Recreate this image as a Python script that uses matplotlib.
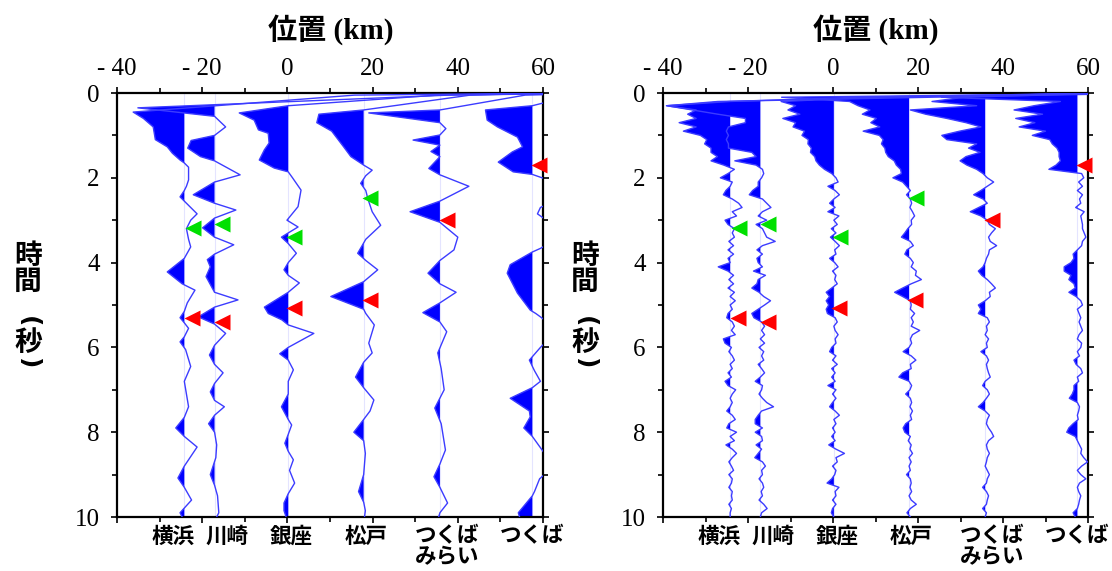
import matplotlib
matplotlib.use('Agg')
import matplotlib.pyplot as plt
import numpy as np

# 字体：数字用衬线体，汉字回退到 Noto Sans CJK JP
plt.rcParams['font.family'] = ['Liberation Serif', 'Noto Sans CJK JP']
plt.rcParams['axes.unicode_minus'] = False

# ---------------- 数据 ----------------
STATIONS = ['横浜', '川崎', '銀座', '松戸', 'つくば\nみらい', 'つくば']
STATION_KM = [-24.2, -17.1, 0.2, 17.9, 35.8, 57.5]
LABEL_KM = [-26.8, -14.2, 0.9, 18.4, 37.5, 57.5]

X_TICKS = [-40, -20, 0, 20, 40, 60]
X_TICK_LABELS = ['- 40', '- 20', '0', '20', '40', '60']
Y_TICKS = [0, 2, 4, 6, 8, 10]

# P波（绿）、S波（红）到时标记
P_KM = [-22.2, -15.4, 1.6, 19.5]
P_T = [3.18, 3.09, 3.40, 2.48]
S_KM = [-22.4, -15.4, 1.5, 19.3, 37.5, 59.0]
S_T = [5.30, 5.40, 5.07, 4.88, 3.00, 1.70]

# 左图：低频波形（时间点, 振幅 km）
L_YOKOHAMA_T = [0.0, 0.05, 0.45, 0.6, 0.8, 1.1, 1.27, 1.42, 1.58, 1.65, 1.75, 2.05, 2.2, 2.3, 2.45, 2.6,
                2.85, 3.0, 3.2, 3.45, 3.63, 3.9, 4.22, 4.5, 4.65, 4.95, 5.15, 5.3, 5.42, 5.55, 5.75, 5.87,
                6.05, 6.45, 6.8, 7.4, 7.65, 7.9, 8.1, 8.35, 8.8, 9.08, 9.3, 9.6, 9.9, 10.0]
L_YOKOHAMA_V = [90, 40, -12, -9.6, -7.3, -6.8, -4, -2.8, -1, 0, 1, 1, 0.5, 0, -1, 0.5,
                3, 1.5, 0.5, 1, 1.5, 0, -4, -0.5, 2.5, 0.7, 0, -1, 0, 1, 0, -1,
                0.3, 1.5, 0, 1, 0, -2, 0, 3, 0, -1.5, 0, 1.7, -1, -0.5]

L_KAWASAKI_T = [0.0, 0.05, 0.35, 0.55, 0.8, 1.0, 1.12, 1.3, 1.5, 1.6, 1.93, 2.1, 2.4, 2.6, 2.76, 2.95,
                3.18, 3.4, 3.58, 3.8, 3.93, 4.1, 4.33, 4.7, 4.88, 5.05, 5.28, 5.45, 5.67, 5.95, 6.18,
                6.4, 6.6, 6.85, 7.05, 7.25, 7.4, 7.6, 7.8, 8.0, 8.3, 8.6, 9.0, 9.25, 9.5, 9.9, 10.0]
L_KAWASAKI_V = [95, 55, -18, 0, 2.6, 0, -5.5, -6.3, -3.3, 0, 6, 0, -5, 0, 5, 0,
                -2.8, 0, 4.5, 0, -1.7, -1, -2, 0, 5.5, 0, -3.8, 0, 2.6, 0, -1.2,
                0, 2, 0, -1, 0, 2.3, 0, -1.4, 0, 0.5, 0.3, -1, 0, 0.7, 1, 0.5]

L_GINZA_T = [0.0, 0.05, 0.3, 0.47, 0.64, 0.87, 0.95, 1.18, 1.34, 1.58, 1.77, 1.86, 2.0, 2.29, 2.68, 3.0,
             3.16, 3.3, 3.4, 3.55, 3.78, 4.0, 4.17, 4.3, 4.48, 4.7, 5.05, 5.2, 5.35, 5.47, 5.67, 6.0,
             6.15, 6.3, 6.53, 6.8, 7.1, 7.4, 7.7, 7.83, 8.05, 8.26, 8.45, 8.65, 8.9, 9.2, 9.45, 9.67,
             9.85, 10.0]
L_GINZA_V = [70, 35, 0, -11.5, -8, -7, -4.7, -4.5, -5.6, -6.8, -3.3, 0, 1, 3, 2.3, -0.3,
             2.3, 0, -1.6, 0, 1.9, 0, -1, 0, 2.6, 0, -5.6, -4.7, -1.5, 0, 6, 0,
             -2, 0, 1.2, 0, 0, -1.6, 0, 0.8, 0, -0.8, 0, 1.2, 0.3, 1.5, 0, -1,
             -1, -0.5]

L_MATSUDO_T = [0.0, 0.05, 0.4, 0.5, 0.7, 0.9, 1.27, 1.5, 1.7, 1.82, 1.95, 2.13, 2.3, 2.5, 2.8, 3.12,
               3.45, 3.78, 3.95, 4.17, 4.45, 4.8, 5.1, 5.2, 5.47, 5.9, 6.13, 6.35, 6.7, 6.95, 7.24,
               7.5, 7.7, 8.0, 8.2, 8.5, 9.0, 9.4, 9.65, 9.85, 10.0]
L_MATSUDO_V = [45, 25, 0, -10.5, -11, -7.5, -4.7, -3, 0, 2, 0.5, -0.7, 0.5, 1, 2, 4,
               0.5, -1.4, 0.5, 3.3, 0, -7.7, 0, 0.5, 2.5, 1.2, 2, 0, -1.9, 0, 2.4,
               1.5, 0, -2.3, 0, 0.4, 0, -1.2, 0, 0.4, 0.2]

L_MIRAI_T = [0.0, 0.05, 0.4, 0.47, 0.7, 0.84, 0.99, 1.11, 1.23, 1.38, 1.5, 1.78, 1.93, 2.2, 2.55, 2.8,
             3.05, 3.4, 3.7, 3.95, 4.25, 4.5, 4.7, 4.95, 5.18, 5.4, 5.63, 6.13, 6.5, 7.0, 7.43, 7.8,
             8.42, 8.75, 9.05, 9.3, 9.67, 9.9, 10.0]
L_MIRAI_V = [40, 20, 0, -16.7, 0, 1.4, 0, -6.3, 0, -2.1, 0, -2.6, 0, 6.8, 0, -7,
             0, 4.2, 3.3, 0, -2.8, 0, 3.8, 0, -4, 0, 1.6, -0.5, 0.3, 1, -1.2, 0.3,
             1.3, 0, -1.4, 0, 1.8, 0, -0.3]

L_TSUKUBA_T = [0.0, 0.05, 0.3, 0.4, 0.64, 0.8, 1.04, 1.27, 1.39, 1.63, 1.86, 1.92, 2.2, 2.6, 2.7, 2.85,
               2.95, 3.3, 3.66, 3.75, 4.05, 4.25, 4.72, 5.12, 5.2, 5.28, 5.6, 6.0, 6.3, 6.55, 6.8,
               6.95, 7.2, 7.5, 7.64, 7.9, 8.1, 8.45, 8.8, 9.1, 9.4, 9.5, 9.9, 10.0]
L_TSUKUBA_V = [20, 10, 0, -11, -10.6, -8.2, -3.5, -2.3, -4.7, -8, -4.5, 0, 8, 4, 1.9, 1.2,
               2.6, 8, 2, 0, -5.2, -5.9, -3.5, -0.5, 0.8, 1.9, 6, 1.9, -0.7, 0.5, 1.9,
               0, -5.2, -0.7, -0.5, -2, 0, 2.5, 5, 1.7, 0.5, 0, -3.3, -3]

# 右图：高频波形，0.1 s 间隔采样
R_TIME = np.arange(101) / 10.0
R_YOKOHAMA = [90, 30, 0, -15, -8, -10, -8, -12, -8, -11,
              -7, -5.5, -6, -4.5, -4.5, -3, -4.5, -1.5, 1, -0.5,
              -2.3, 0.5, 0, -1, -1.6, 0.5, 2, 2.8, 0.5, 1.5,
              -1.2, -0.5, 1, 0.5, 1, -0.3, 0.8, -0.5, 0.8, -0.5,
              0, -2.8, -0.5, 0.8, -0.3, 0.8, -0.5, 1, 0, 1.2,
              0, 0.5, -0.5, -0.8, 0.5, 1, 0.3, 1.2, -1.6, -1.2,
              0.3, -0.3, 0.5, 1, 0, 0.5, -0.5, 0.3, -1.2, -0.5,
              1.3, 0.5, 0, 0.5, 0, -0.8, 0.5, 1.2, -0.3, -0.8,
              1.5, 0, 1, -1, 0.5, 1.5, 0.5, -0.3, 0.3, 0.8,
              -0.3, 0.5, 0.3, -0.3, 0.5, 0.3, 0.5, -0.3, 0.3, 0,
              0]
R_KAWASAKI = [95, 40, -10, -22, -16, -10, -3.5, -3.5, -7.5, -8,
              -7.5, -8, -7.5, -7.5, -2, -1, -6, -1, 0.5, 0.8,
              0.3, -0.5, -0.5, -1.8, -2.6, 0.5, 1.5, 2.5, 0.5, -0.5,
              1.5, -1, 0.5, 1, 1.5, 3.5, 0.5, -0.8, 0.5, -0.8,
              -0.5, 0.5, -1.6, 1.2, -0.5, -0.8, -2, -0.3, 0.8, 2.4,
              1, -0.5, -2, -1.5, 0.3, 1, 0.3, 1, 0, 1,
              -0.3, 0.8, 0.3, 0.8, -0.5, 0.3, 1, 0, -1.2, 0.5,
              0.3, -0.3, 0.5, 1.5, 3.1, 0.3, -0.5, -1.2, -1.2, 0.5,
              -1.2, 0.3, 0.5, -1, 0.3, -0.5, -1.3, 0.5, 1.2, 0.3,
              0.5, -0.3, 0.5, 0.8, 0.2, 0.5, -0.3, 0.8, 1.6, 0.3,
              0]
R_GINZA = [70, 10, -12.4, -9, -10.8, -8, -12, -9, -9.6, -6.9,
           -7.5, -6, -6.1, -5.3, -5.5, -4.5, -4.2, -3.4, -2.2, -0.5,
           0.5, 1, -1.4, 0.3, 1.3, 0, -1, 0.3, -1.4, 1.2,
           0, 0.8, -0.6, 0.5, -0.8, 0.3, 1.3, 0.2, 0.5, -1,
           0.2, 1, -0.3, 0.5, 0.2, 0.8, -0.5, -1.8, -1, -1.8,
           -1.2, -1.8, -1.5, 0.3, 0.8, 0, 0.3, 1, 0.3, 0.5,
           -0.5, -1, 0.5, -0.3, 0.8, -0.5, 0.3, -0.5, 0.3, -1.4,
           0.5, -0.3, 0.5, -0.3, -1, 0.3, 1.3, 0, 0.5, -0.3,
           0.3, -0.5, 0.3, -1.2, 0.5, 2.5, 0.5, 0.8, -0.3, 0.5,
           0.2, -0.5, -1.6, 1.2, 0.3, 0.5, -0.3, 0.5, -0.3, -0.6,
           0]
R_MATSUDO = [60, -30, -14, -12, -9.2, -11, -7.7, -9, -6.9, -10.8,
             -7, -6.1, -6.5, -5.7, -5.5, -4.9, -3.5, -3, -2, -1.8,
             -3.8, -1.5, -0.6, 0.3, -0.6, 0.3, 0.6, 0.2, 0.8, 1.3,
             0.5, 0.6, -0.3, -1, -1.8, 0.3, 1, -0.5, -1, 0.3,
             1, 0.5, 1.7, 1.5, 2.9, 0.5, -1.5, -3.4, -1.5, 0.3,
             0.5, 0.3, 1.3, 0.5, 1, 0.5, 2.5, 0.8, 0.3, 0.6,
             0, -1.4, 0.5, 1.6, 0.3, 0.5, -1.5, -2.4, 0, 0.6,
             0.2, -0.8, 0.3, 0.6, 0.2, 0.8, 0.3, 0.6, -0.8, -1.4,
             -1, 0.3, -0.2, 0.5, 0.2, 0.8, 0, 0.5, 0, 0.3,
             -0.6, 0.3, 0.5, 0.2, 0.6, 0, 0.5, 1.7, 0.3, -0.5,
             0.3]
R_MIRAI = [30, -5, -12.5, -2, -17.6, -14, -9, -4.5, -1, -6,
           -10.2, -9, -2, -3.9, -1.2, -4.5, -5.9, -4.3, -2, -0.5,
           0.5, 2, 0.5, -1, -2.7, -0.5, 0.5, -1.5, -3.5, -1,
           0.5, 1, 2.4, 1.5, 0.8, 1.2, 2.7, 1, 0.8, 0.3,
           0, -0.5, -1.6, -0.8, 0.5, 1.5, 2.4, 1, 1.2, 0,
           -1.6, -1, -1.6, 0.5, 1, 0.3, 0.5, 0, 0.8, 0.3,
           0.5, -1, 0.3, 0.8, 0.3, 0.5, 0.8, 1.2, 0, -0.6,
           0.5, 1, 0.3, -0.5, -1.6, 0, 1, 0.5, 0.3, 0.8,
           1.5, 2, 0.8, 0.3, 0.5, 1, 0.5, 0.3, 0, 0.5,
           1, 0.5, 0.3, -0.6, 0.3, 0.8, 0.5, 0.3, -0.6, 0.3,
           0]
R_TSUKUBA = [2, -32, -4, -10.2, -14.9, -8.2, -14.5, -10, -13.7, -7.5,
             -10.6, -6.5, -5.9, -4.8, -4.3, -4.3, -4, -5, -6.7, 1,
             1.5, 0.3, 1.2, 0, 1.2, 0.5, 0.8, -0.4, 1.6, 0.8,
             1, 1.2, 1.2, 1.6, 2, 1.2, 1, 0, -1, -0.8,
             -1.5, -3.1, -3.1, -1.5, -2, -0.8, -0.5, -2, -0.3, 0.8,
             1.2, 0, 0.4, 0.8, 0.4, 0.8, 1.2, 0.4, 0, 1,
             0.8, 0, 0.5, -0.8, -0.3, 0.8, 1.2, 0, 0.3, -0.8,
             -0.8, -1.2, -1.9, 0, 0.5, 0.3, 0, 0.2, -1, -2,
             -2.5, -0.5, 0, 0.5, 1, 0.8, 1.5, 2.4, 1, 0,
             0.8, 2, 0.5, 0, 0.3, 0.8, 0.5, 0.3, 0, -1,
             -0.5]

LEFT_TRACES = [(L_YOKOHAMA_T, L_YOKOHAMA_V), (L_KAWASAKI_T, L_KAWASAKI_V),
               (L_GINZA_T, L_GINZA_V), (L_MATSUDO_T, L_MATSUDO_V),
               (L_MIRAI_T, L_MIRAI_V), (L_TSUKUBA_T, L_TSUKUBA_V)]
RIGHT_TRACES = [(R_TIME, v) for v in
                [R_YOKOHAMA, R_KAWASAKI, R_GINZA, R_MATSUDO, R_MIRAI, R_TSUKUBA]]

W, H = 1112, 571
LINE_COLOR = '#3c3cff'
FILL_COLOR = '#0000ff'


def draw_panel(ax, traces):
    """绘制一个面板：各测站波形，负向填充"""
    for base, (t, v) in zip(STATION_KM, traces):
        t = np.asarray(t, dtype=float)
        x = base + np.asarray(v, dtype=float)
        ax.axvline(base, color='#e4e4ff', lw=0.8, zorder=0)
        ax.fill_betweenx(t, base, x, where=x < base, interpolate=True,
                         color=FILL_COLOR, lw=0, zorder=2)
        ax.plot(x, t, color=LINE_COLOR, lw=1.0, zorder=3)

    # 到时标记
    ax.plot(P_KM, P_T, '<', color='#00e000', markersize=11, mec='none',
            clip_on=False, zorder=5)
    ax.plot(S_KM, S_T, '<', color='#ff0000', markersize=11, mec='none',
            clip_on=False, zorder=5)

    ax.set_xlim(-40, 60)
    ax.set_ylim(10, 0)
    ax.set_xticks(X_TICKS)
    ax.set_xticklabels(X_TICK_LABELS)
    ax.set_xticks(np.arange(-30, 60, 20), minor=True)
    ax.set_yticks(Y_TICKS)
    ax.set_yticks(np.arange(1, 10, 2), minor=True)
    ax.tick_params(which='both', direction='out', top=True, bottom=True,
                   left=True, right=True, labeltop=True, labelbottom=False,
                   labelleft=True, labelright=False, width=1.2, color='black')
    ax.tick_params(which='major', length=4.5)
    ax.tick_params(which='minor', length=3.5)
    ax.tick_params(axis='x', labelsize=18, pad=5)
    ax.tick_params(axis='y', labelsize=18, pad=8)
    for sp in ax.spines.values():
        sp.set_linewidth(1.6)

    # 测站名
    for km, name in zip(LABEL_KM, STATIONS):
        ax.text(km, -0.02, name, transform=ax.get_xaxis_transform(),
                ha='center', va='top', fontsize=15.5, fontweight='bold',
                family='Noto Sans CJK JP', linespacing=1.0)


fig = plt.figure(figsize=(W / 100, H / 100), dpi=100)
ax1 = fig.add_axes([117 / W, 54 / H, 426 / W, 424 / H])
ax2 = fig.add_axes([663 / W, 54 / H, 425 / W, 424 / H])

draw_panel(ax1, LEFT_TRACES)
draw_panel(ax2, RIGHT_TRACES)

# 轴标题
for cx in (331, 876):
    fig.text(cx / W, 1 - 30 / H, '位置 (km)', ha='center', va='center',
             fontsize=21, fontweight='bold')

# 纵向排列的 “時間（秒）”，括号旋转成竖排形式
YLABEL_CHARS = ['時', '間', '(', '秒', ')']
YLABEL_Y = [256, 282, 322, 343, 364]
for cx in (28, 585):
    for ch, cy in zip(YLABEL_CHARS, YLABEL_Y):
        if ch in '()':
            fig.text(cx / W, 1 - cy / H, ch, ha='center', va='center',
                     rotation=-90, fontsize=18, fontweight='bold',
                     family='DejaVu Sans')
        else:
            fig.text(cx / W, 1 - cy / H, ch, ha='center', va='center',
                     fontsize=20, fontweight='bold', family='Noto Sans CJK JP')

fig.savefig('out.png', dpi=100)
